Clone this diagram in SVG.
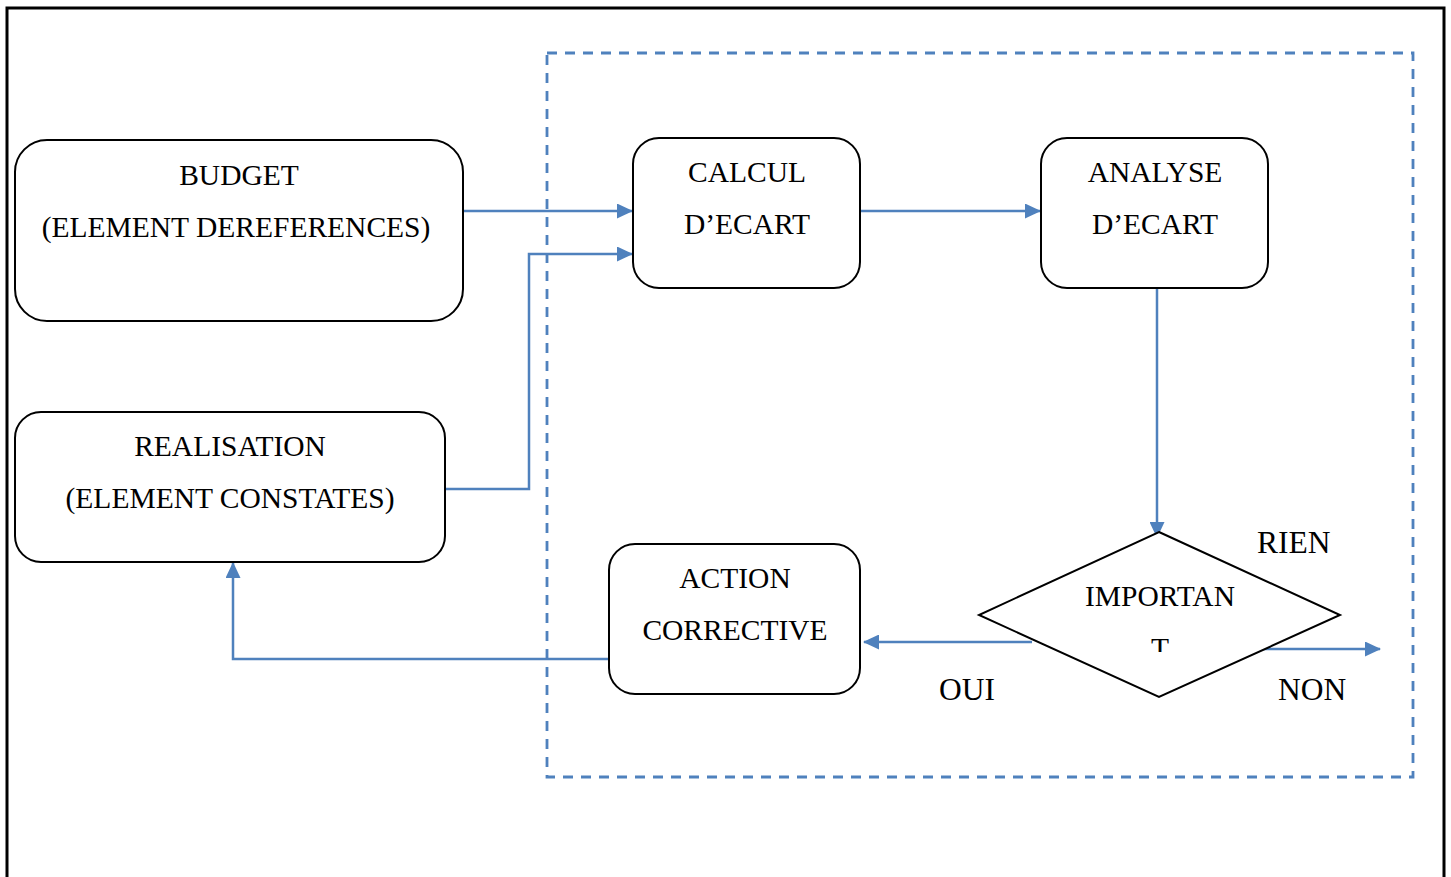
<svg xmlns="http://www.w3.org/2000/svg" width="1451" height="877" viewBox="0 0 1451 877">
  <defs>
    <style>
      .box { fill: #ffffff; stroke: #000000; stroke-width: 2; }
      .lbl { font-family: "Liberation Serif", "Times New Roman", serif; font-size: 29.5px; fill: #000000; text-anchor: middle; }
      .free { font-family: "Liberation Serif", "Times New Roman", serif; font-size: 31.5px; fill: #000000; }
      .link { fill: none; stroke: #4f81bd; stroke-width: 2.5; }
      .zone { fill: none; stroke: #4f81bd; stroke-width: 2.8; stroke-dasharray: 10 8; }
    </style>
    <marker id="arrow" viewBox="0 0 16 15" refX="15" refY="7.5" markerWidth="16" markerHeight="15" markerUnits="userSpaceOnUse" orient="auto">
      <path d="M0,0 L16,7.5 L0,15 Z" fill="#4f81bd"/>
    </marker>
    <clipPath id="cutT">
      <rect x="1100" y="600" width="120" height="52"/>
    </clipPath>
  </defs>

  <!-- page frame -->
  <path d="M7,880 V8 H1444 V880" fill="none" stroke="#000" stroke-width="3"/>

  <!-- control zone -->
  <rect class="zone" x="547" y="53" width="866" height="724"/>

  <!-- connectors -->
  <g id="connectors">
    <path class="link" d="M463,211 H632" marker-end="url(#arrow)"/>
    <path class="link" d="M445,489 H529 V254 H632" marker-end="url(#arrow)"/>
    <path class="link" d="M861,211 H1040" marker-end="url(#arrow)"/>
    <path class="link" d="M1157,289 V537" marker-end="url(#arrow)"/>
    <path class="link" d="M1032,642 H864" marker-end="url(#arrow)"/>
    <path class="link" d="M1263,649 H1380" marker-end="url(#arrow)"/>
    <path class="link" d="M609,659 H233 V563" marker-end="url(#arrow)"/>
  </g>

  <g id="budget">
    <rect class="box" x="15" y="140" width="448" height="181" rx="32"/>
    <text class="lbl" x="239" y="185">BUDGET</text>
    <text class="lbl" x="236" y="237">(ELEMENT DEREFERENCES)</text>
  </g>

  <g id="realisation">
    <rect class="box" x="15" y="412" width="430" height="150" rx="26"/>
    <text class="lbl" x="230" y="456">REALISATION</text>
    <text class="lbl" x="230" y="508">(ELEMENT CONSTATES)</text>
  </g>

  <g id="calcul">
    <rect class="box" x="633" y="138" width="227" height="150" rx="26"/>
    <text class="lbl" x="747" y="182">CALCUL</text>
    <text class="lbl" x="747" y="234">D’ECART</text>
  </g>

  <g id="analyse">
    <rect class="box" x="1041" y="138" width="227" height="150" rx="26"/>
    <text class="lbl" x="1155" y="182">ANALYSE</text>
    <text class="lbl" x="1155" y="234">D’ECART</text>
  </g>

  <g id="action">
    <rect class="box" x="609" y="544" width="251" height="150" rx="26"/>
    <text class="lbl" x="735" y="588">ACTION</text>
    <text class="lbl" x="735" y="640">CORRECTIVE</text>
  </g>

  <g id="important">
    <polygon points="1159,532 1340,615 1159,697 979,615" fill="#ffffff" stroke="#000" stroke-width="2"/>
    <text class="lbl" x="1160" y="606">IMPORTAN</text>
    <text class="lbl" x="1160" y="658" clip-path="url(#cutT)">T</text>
  </g>

  <g id="labels">
    <text class="free" x="1257" y="553">RIEN</text>
    <text class="free" x="1278" y="700">NON</text>
    <text class="free" x="939" y="700">OUI</text>
  </g>
</svg>
